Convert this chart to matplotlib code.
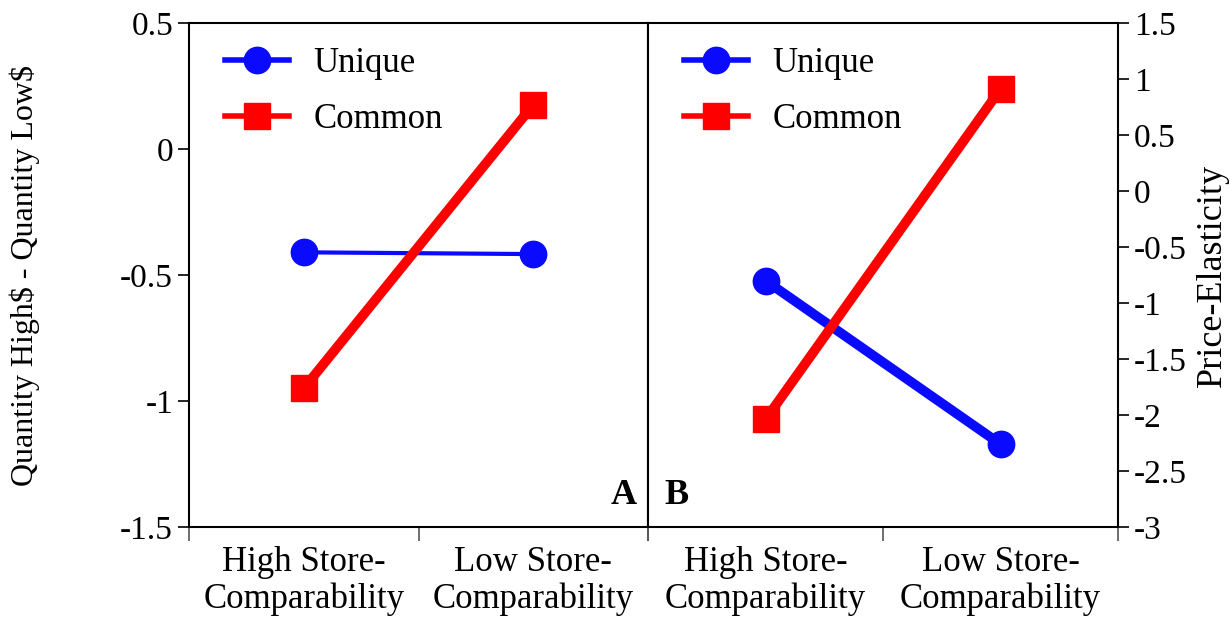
import matplotlib
matplotlib.use("Agg")
import matplotlib.pyplot as plt
import numpy as np

plt.rcParams["font.family"] = ["Liberation Serif", "DejaVu Serif"]
plt.rcParams["axes.unicode_minus"] = False

categories = ["High Store-\nComparability", "Low Store-\nComparability"]
series_names = ["Unique", "Common"]

# panel A: Quantity High$ - Quantity Low$
a_unique = [-0.41, -0.417]
a_common = [-0.95, 0.175]

# panel B: Price-Elasticity
b_unique = [-0.80, -2.26]
b_common = [-2.04, 0.91]

FS = 24
W, H = 1231, 618
fig = plt.figure(figsize=(W / 100, H / 100), dpi=100)

axA = fig.add_axes([189 / W, 1 - 527 / H, (648 - 189) / W, (527 - 23) / H])
axB = fig.add_axes([648 / W, 1 - 527 / H, (1118 - 648) / W, (527 - 23) / H])

x = np.arange(len(categories)) + 0.5


def style(ax):
    ax.set_xlim(0, 2)
    ax.set_xticks([0, 1, 2])
    ax.set_xticklabels([])
    ax.set_xticks(x, minor=True)
    ax.set_xticklabels(categories, minor=True, fontsize=FS + 1, linespacing=1.12)
    ax.tick_params(axis="x", which="major", direction="out", length=10, width=1.2, color="#555555")
    ax.tick_params(axis="x", which="minor", length=0, pad=14)
    for s in ax.spines.values():
        s.set_linewidth(1.5)


style(axA)
style(axB)

# panel A
axA.plot(x, a_unique, color="#0a0aff", lw=3, marker="o", ms=19, label=series_names[0])
axA.plot(x, a_common, color="#ff0000", lw=7, marker="s", ms=19, label=series_names[1])
axA.set_ylim(-1.5, 0.5)
axA.set_yticks([-1.5, -1, -0.5, 0, 0.5])
axA.set_yticklabels(["-1.5", "-1", "-0.5", "0", "0.5"], fontsize=FS)
axA.tick_params(axis="y", direction="out", length=8, width=1.2)
axA.set_ylabel("Quantity High\\$ - Quantity Low\\$", fontsize=FS - 1, va="center")
axA.yaxis.set_label_coords(-164 / 459, 0.5)
axA.text(0.975, 0.03, "A", transform=axA.transAxes, fontsize=FS + 2, fontweight="bold", ha="right", va="bottom")

# panel B
axB.plot(x, b_unique, color="#0a0aff", lw=7, marker="o", ms=19, label=series_names[0])
axB.plot(x, b_common, color="#ff0000", lw=7, marker="s", ms=19, label=series_names[1])
axB.set_ylim(-3, 1.5)
yt = [-3, -2.5, -2, -1.5, -1, -0.5, 0, 0.5, 1, 1.5]
axB.set_yticks(yt)
axB.set_yticklabels([("%g" % v) for v in yt], fontsize=FS)
axB.yaxis.tick_right()
axB.yaxis.set_label_position("right")
axB.tick_params(axis="y", direction="out", length=8, width=1.2, left=False)
axB.set_ylabel("Price-Elasticity", fontsize=FS + 2, va="center")
axB.yaxis.set_label_coords((1212 - 648) / 470, 0.5)
axB.text(0.035, 0.03, "B", transform=axB.transAxes, fontsize=FS + 2, fontweight="bold", ha="left", va="bottom")

for ax in (axA, axB):
    leg = ax.legend(loc="upper left", bbox_to_anchor=(0.01, 1.015), frameon=False, fontsize=FS + 1,
                    handlelength=1.85, handletextpad=0.7, labelspacing=0.68, markerscale=1.0)
    for ln in leg.get_lines():
        ln.set_linewidth(4)

fig.savefig("out.png", dpi=100)
